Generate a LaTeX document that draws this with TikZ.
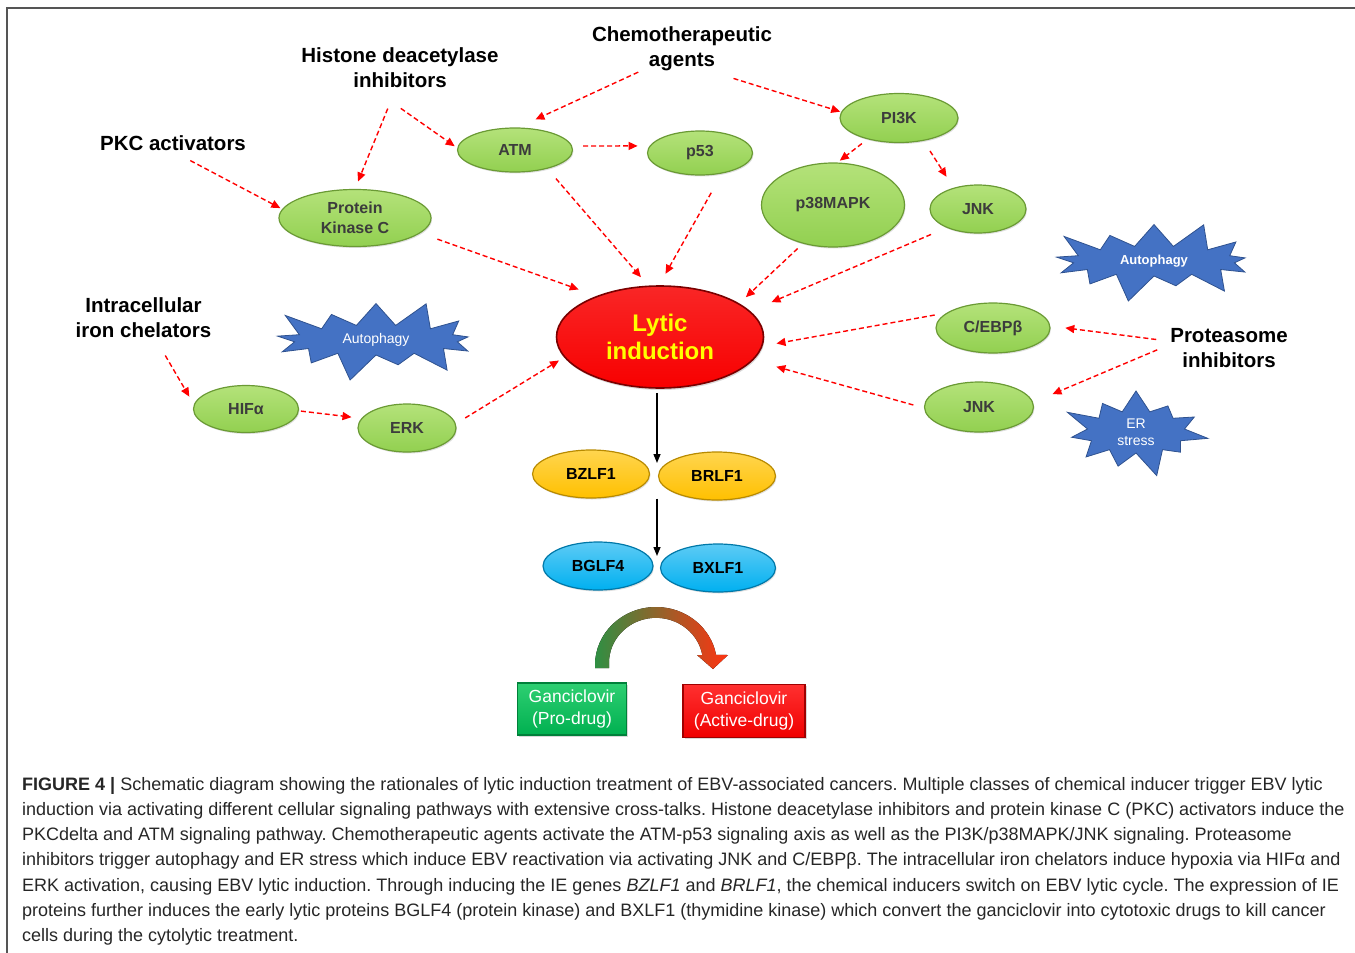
\documentclass[tikz,border=0pt]{standalone}
\usepackage{fontspec}
\setmainfont{Liberation Sans}
\usetikzlibrary{shapes.geometric,shapes.symbols,arrows.meta,shadows}

\definecolor{leaf}{HTML}{92D050}
\definecolor{leaflight}{HTML}{B4E27A}
\definecolor{leafdark}{HTML}{6A9A34}
\definecolor{kintext}{HTML}{3C3C3C}
\definecolor{lyticred}{HTML}{F80000}
\definecolor{lyticdark}{HTML}{7A0000}
\definecolor{lytictext}{HTML}{FFFF00}
\definecolor{iegold}{HTML}{FFC000}
\definecolor{iegoldlight}{HTML}{FFD54F}
\definecolor{iegolddark}{HTML}{B88A00}
\definecolor{elsky}{HTML}{00B0F0}
\definecolor{elskylight}{HTML}{5DCBF5}
\definecolor{elskydark}{HTML}{0078A8}
\definecolor{burstblue}{HTML}{4472C4}
\definecolor{burstdark}{HTML}{2F528F}
\definecolor{dashred}{HTML}{FF0000}
\definecolor{prugreen}{HTML}{00B050}
\definecolor{prugreenlight}{HTML}{2ECF72}
\definecolor{prugreendark}{HTML}{00803A}
\definecolor{actred}{HTML}{F00000}
\definecolor{actredlight}{HTML}{FF3030}
\definecolor{actreddark}{HTML}{A00000}
\definecolor{arcgreen}{HTML}{2F8F43}
\definecolor{arcmid}{HTML}{B8682C}
\definecolor{arcred}{HTML}{FF3311}
\definecolor{captext}{HTML}{262626}
\definecolor{framegray}{HTML}{555555}

\begin{document}
\begin{tikzpicture}[x=1pt,y=-1pt,
    every node/.style={inner sep=0pt},
    lbl/.style={font=\fontsize{20.5}{25}\selectfont\bfseries, align=center},
    kin/.style={ellipse, top color=leaflight, bottom color=leaf, draw=leafdark,
        line width=1.2pt, text=kintext, align=center,
        font=\fontsize{16}{20}\selectfont\bfseries,
        drop shadow={opacity=0.25, shadow xshift=1pt, shadow yshift=-1.5pt}},
    ieprot/.style={ellipse, top color=iegoldlight, bottom color=iegold, draw=iegolddark,
        line width=1.2pt, font=\fontsize{16}{20}\selectfont\bfseries,
        minimum width=117pt, minimum height=48pt,
        drop shadow={opacity=0.25, shadow xshift=1pt, shadow yshift=-1.5pt}},
    elprot/.style={ellipse, top color=elskylight, bottom color=elsky, draw=elskydark,
        line width=1.2pt, font=\fontsize{16}{20}\selectfont\bfseries,
        minimum width=113pt, minimum height=48pt,
        drop shadow={opacity=0.25, shadow xshift=1pt, shadow yshift=-1.5pt}},
    burst/.style={starburst, fill=burstblue, draw=burstdark, line width=0.8pt,
        text=white, align=center, font=\fontsize{14}{17}\selectfont},
    drugbox/.style={rectangle, line width=1.2pt, text=white, align=center,
        font=\fontsize{17.5}{22}\selectfont,
        drop shadow={opacity=0.3, shadow xshift=1.5pt, shadow yshift=-1.5pt}},
    dasharrow/.style={dashred, line width=1.4pt, dash pattern=on 5pt off 3pt,
        -{Triangle[length=9pt,width=8pt]}},
    blackarrow/.style={black, line width=1.4pt, -{Triangle[length=9pt,width=7pt]}}]

\useasboundingbox (0,0) rectangle (1355,953);
\draw[framegray, line width=1.5pt] (7,953) -- (7,8) -- (1355,8);

% inducers
\node[lbl] (chemo) at (682,49) {Chemotherapeutic\\agents};
\node[lbl] (hdac) at (400,68) {Histone deacetylase\\inhibitors};
\node[lbl] (pkcact) at (173,143.5) {PKC activators};
\node[lbl] (iron) at (143.5,318) {Intracellular\\iron chelators};
\node[lbl] (prot) at (1229,348.5) {Proteasome\\inhibitors};

% signalling
\node[kin, minimum width=115pt, minimum height=44pt] (atm) at (515,150) {ATM};
\node[kin, minimum width=105pt, minimum height=44pt] (p53) at (700,153) {p53};
\node[kin, minimum width=118pt, minimum height=49pt] (pi3k) at (899,118) {PI3K};
\node[kin, minimum width=143pt, minimum height=84pt] (p38) at (833,205) {p38MAPK};
\node[kin, minimum width=96pt, minimum height=48pt] (jnka) at (978,209) {JNK};
\node[kin, minimum width=152pt, minimum height=57pt] (pkc) at (355,218) {Protein\\Kinase C};
\node[kin, minimum width=105pt, minimum height=47pt] (hif) at (246,409) {HIFα};
\node[kin, minimum width=98pt, minimum height=48pt] (erk) at (407,428) {ERK};
\node[kin, minimum width=114pt, minimum height=50pt] (cebp) at (993,328) {C/EBPβ};
\node[kin, minimum width=109pt, minimum height=50pt] (jnkb) at (979,407) {JNK};

\node[ellipse, top color=lyticred!85!white, bottom color=lyticred, draw=lyticdark,
    line width=1.6pt, minimum width=207pt, minimum height=102pt, text=lytictext,
    align=center, font=\fontsize{24}{28}\selectfont\bfseries,
    drop shadow={opacity=0.3, shadow xshift=1pt, shadow yshift=-2pt}]
    (lytic) at (660,337) {Lytic\\induction};

\node[burst, minimum width=224pt, minimum height=90pt, starburst points=13,
    starburst point height=30pt] (autol) at (376,340) {Autophagy};
\node[burst, minimum width=222pt, minimum height=90pt, starburst points=13,
    starburst point height=30pt, font=\fontsize{13}{16}\selectfont\bfseries]
    (autor) at (1154,261) {Autophagy};
\node[burst, minimum width=154pt, minimum height=98pt, starburst points=11,
    starburst point height=28pt] (er) at (1136,432) {ER\\stress};

% lytic genes
\node[ieprot] (bzlf) at (591,474) {BZLF1};
\node[ieprot] (brlf) at (717,476) {BRLF1};
\node[elprot, minimum width=110pt] (bglf) at (598,566) {BGLF4};
\node[elprot, minimum width=115pt] (bxlf) at (718,568) {BXLF1};

\node[drugbox, top color=prugreenlight, bottom color=prugreen, draw=prugreendark,
    minimum width=109pt, minimum height=52pt] (pro) at (572,709) {Ganciclovir\\(Pro-drug)};
\node[drugbox, top color=actredlight, bottom color=actred, draw=actreddark,
    minimum width=122pt, minimum height=53pt] (act) at (744,711) {Ganciclovir\\(Active-drug)};

\fill[left color=arcgreen, middle color=arcmid, right color=arcred]
    (595,668) -- (595,665) arc[start angle=180, end angle=350, x radius=61, y radius=58]
    -- (728,655) -- (713,669) -- (697,655) -- (702.3,655)
    arc[start angle=350, end angle=180, x radius=47, y radius=45]
    -- (609,668) -- cycle;

\draw[dasharrow, shorten <=2pt, shorten >=19pt] (chemo.208) -- (atm.82);
\draw[dasharrow, shorten <=24pt, shorten >=1pt] (chemo.322) -- (pi3k.174);
\draw[dasharrow, shorten <=22pt, shorten >=8pt] (hdac.259) -- (pkc.90);
\draw[dasharrow, shorten <=35pt, shorten >=3pt] (hdac.216) -- (atm.178);
\draw[dasharrow, shorten <=20pt, shorten >=2pt] (pkcact.267) -- (pkc.173);
\draw[dasharrow, shorten <=11pt, shorten >=12pt] (atm.4) -- (p53.172);
\draw[dasharrow, shorten <=18pt, shorten >=19pt] (pkc.347) -- (lytic.147);
\draw[dasharrow, shorten <=13pt, shorten >=11pt] (atm.330) -- (lytic.103);
\draw[dasharrow, shorten <=22pt, shorten >=13pt] (p53.317) -- (lytic.91);
\draw[dasharrow, shorten <=7pt, shorten >=3pt] (pi3k.214) -- (p38.84);
\draw[dasharrow, shorten <=12pt, shorten >=13pt] (pi3k.317) -- (jnka.139);
\draw[dasharrow, shorten <=7pt, shorten >=9pt] (p38.232) -- (lytic.23);
\draw[dasharrow, shorten <=17pt, shorten >=23pt] (jnka.211) -- (lytic.16);
\draw[dasharrow, shorten <=12pt, shorten >=14pt] (cebp.162) -- (lytic.355);
\draw[dasharrow, shorten <=11pt, shorten >=24pt] (jnkb.181) -- (lytic.346);
\draw[dasharrow, shorten <=14pt, shorten >=15pt] (prot.173) -- (cebp.2);
\draw[dasharrow, shorten <=14pt, shorten >=21pt] (prot.176) -- (jnkb.5);
\draw[dasharrow, shorten <=20pt, shorten >=9pt] (iron.300) -- (hif.175);
\draw[dasharrow, shorten <=2pt, shorten >=10pt] (hif.358) -- (erk.168);
\draw[dasharrow, shorten <=11pt, shorten >=6pt] (erk.5) -- (lytic.192);

\coordinate (ietip) at (657,463);
\coordinate (eltip) at (657,556);
\draw[blackarrow, shorten <=4pt] (lytic.south -| ietip) -- (ietip);
\draw[blackarrow] (bzlf.south -| eltip) -- (eltip);

\node[anchor=north west, align=left, text=captext,
    font=\fontsize{18}{25.2}\selectfont\frenchspacing] (caption) at (22,777)
{\textbf{FIGURE 4 |} Schematic diagram showing the rationales of lytic induction treatment of EBV-associated cancers. Multiple classes of chemical inducer trigger EBV lytic\\
induction via activating different cellular signaling pathways with extensive cross-talks. Histone deacetylase inhibitors and protein kinase C (PKC) activators induce the\\
PKCdelta and ATM signaling pathway. Chemotherapeutic agents activate the ATM-p53 signaling axis as well as the PI3K/p38MAPK/JNK signaling. Proteasome\\
inhibitors trigger autophagy and ER stress which induce EBV reactivation via activating JNK and C/EBPβ. The intracellular iron chelators induce hypoxia via HIFα and\\
ERK activation, causing EBV lytic induction. Through inducing the IE genes \textit{BZLF1} and \textit{BRLF1}, the chemical inducers switch on EBV lytic cycle. The expression of IE\\
proteins further induces the early lytic proteins BGLF4 (protein kinase) and BXLF1 (thymidine kinase) which convert the ganciclovir into cytotoxic drugs to kill cancer\\
cells during the cytolytic treatment.};
\end{tikzpicture}
\end{document}
